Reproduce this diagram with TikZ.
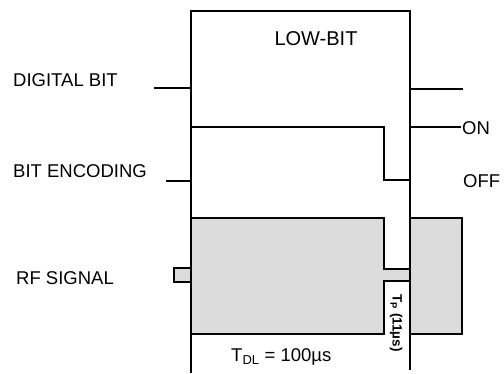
\documentclass[tikz,border=0pt]{standalone}
\usepackage{fontspec}
\setmainfont{Liberation Sans}
\begin{document}
\begin{tikzpicture}[x=1pt,y=-1pt,
  sig/.style={line width=1.6pt,black},
  lab/.style={font=\fontsize{18.5}{20}\selectfont,inner sep=0pt,anchor=west},
  rf/.style={fill=black!14,draw=black,line width=1.6pt}]
\useasboundingbox (0,0) rectangle (504,373);
% RF signal fills
\draw[rf] (191,218) -- (384,218) -- (384,269) -- (410,269) -- (410,281) -- (384,281) -- (384,334) -- (191,334);
\draw[rf] (410,218) rectangle (462,334);
\draw[rf] (191,268) -- (174,268) -- (174,282) -- (191,282);
% frame
\draw[sig] (191,373) -- (191,11) -- (410,11) -- (410,370);
% digital bit
\draw[sig] (154,88) -- (191,88);
\draw[sig] (410,89) -- (463,89);
% bit encoding
\draw[sig] (191,127) -- (384,127) -- (384,180) -- (410,180);
\draw[sig] (166,181) -- (191,181);
\draw[sig] (410,127) -- (461,127);
% labels
\node[lab] (db) at (13,80) {DIGITAL BIT};
\node[lab] (be) at (13,171) {BIT ENCODING};
\node[lab] (rfs) at (16,278) {RF SIGNAL};
\node[lab,anchor=center,font=\fontsize{20}{22}\selectfont] (lb) at (316,39) {LOW-BIT};
\node[lab] (on) at (462,128) {ON};
\node[lab] (off) at (463,181) {OFF};
\node[lab] (tdl) at (231,357) {T\textsubscript{DL} = 100µs};
\node[inner sep=0pt,rotate=-90,font=\fontsize{13.5}{14}\selectfont\bfseries] (tp) at (396,323) {T\textsubscript{P} (11µs)};
\end{tikzpicture}
\end{document}
